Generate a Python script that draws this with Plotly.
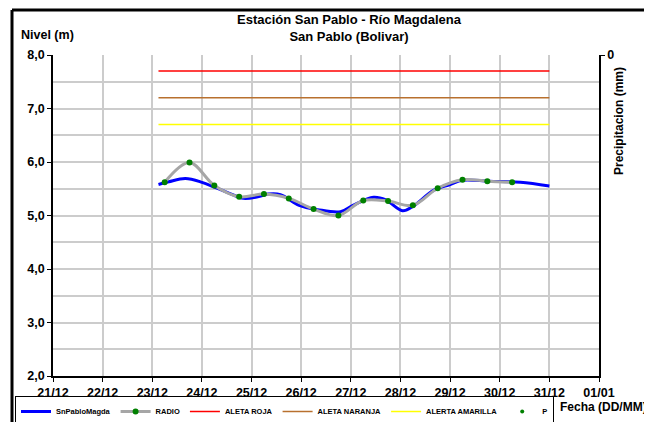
import plotly.graph_objects as go

# ---------------- data ----------------
snpablo_times = [
    "2023-12-23 03:00", "2023-12-23 08:00", "2023-12-23 16:00", "2023-12-24 00:00",
    "2023-12-24 06:00", "2023-12-24 13:00", "2023-12-24 20:00", "2023-12-25 03:00",
    "2023-12-25 08:00", "2023-12-25 14:00", "2023-12-25 23:00", "2023-12-26 08:00",
    "2023-12-26 19:00", "2023-12-27 01:00", "2023-12-27 11:00", "2023-12-27 17:00",
    "2023-12-28 01:00", "2023-12-28 06:00", "2023-12-28 16:00", "2023-12-29 00:00",
    "2023-12-29 06:00", "2023-12-29 19:00", "2023-12-30 10:00", "2023-12-31 00:00",
]
snpablo_values = [
    5.58, 5.63, 5.69, 5.62, 5.53, 5.42, 5.32, 5.35, 5.40, 5.39, 5.19, 5.11,
    5.07, 5.19, 5.34, 5.29, 5.09, 5.17, 5.47, 5.58, 5.66, 5.64, 5.62, 5.55,
]

radio_times = [
    "2023-12-23 06:00", "2023-12-23 18:00", "2023-12-24 06:00", "2023-12-24 18:00",
    "2023-12-25 06:00", "2023-12-25 18:00", "2023-12-26 06:00", "2023-12-26 18:00",
    "2023-12-27 06:00", "2023-12-27 18:00", "2023-12-28 06:00", "2023-12-28 18:00",
    "2023-12-29 06:00", "2023-12-29 18:00", "2023-12-30 06:00",
]
radio_values = [5.62, 5.99, 5.56, 5.35, 5.40, 5.32, 5.12, 5.00, 5.28, 5.27,
                5.19, 5.51, 5.67, 5.64, 5.62]

alert_times = ["2023-12-23 03:00", "2023-12-31 00:00"]
alerta_roja = [7.7, 7.7]
alerta_naranja = [7.2, 7.2]
alerta_amarilla = [6.7, 6.7]

# precipitation: no values recorded in the period
p_times = [None]
p_values = [None]

x_range = ["2023-12-21", "2024-01-01"]
y_range = [2, 8]

# ---------------- figure ----------------
# page body has an 8px margin, so the figure is 8px smaller than the window
W, H = 644, 414
PL, PR, PT, PB = 45, 53, 47, 46
PW, PH = W - PL - PR, H - PT - PB


def px_x(x):  # reference window pixel -> paper x
    return (x - 8 - PL) / PW


def px_y(y):  # reference window pixel -> paper y
    return (H - PB - (y - 8)) / PH


BOLD = dict(family="Liberation Sans, Arial, sans-serif", color="black", weight="bold")

fig = go.Figure()
fig.add_trace(go.Scatter(x=snpablo_times, y=snpablo_values, name="SnPabloMagda",
                         mode="lines", line=dict(color="#0000ff", width=3, shape="spline")))
fig.add_trace(go.Scatter(x=radio_times, y=radio_values, name="RADIO",
                         mode="lines+markers", line=dict(color="#a6a6a6", width=3, shape="spline"),
                         marker=dict(color="#008000", size=6)))
fig.add_trace(go.Scatter(x=alert_times, y=alerta_roja, name="ALETA ROJA",
                         mode="lines", line=dict(color="#ff0000", width=1.5)))
fig.add_trace(go.Scatter(x=alert_times, y=alerta_naranja, name="ALETA NARANJA",
                         mode="lines", line=dict(color="#b8702e", width=1.5)))
fig.add_trace(go.Scatter(x=alert_times, y=alerta_amarilla, name="ALERTA AMARILLA",
                         mode="lines", line=dict(color="#ffff00", width=1.5)))
fig.add_trace(go.Scatter(x=p_times, y=p_values, name="P", yaxis="y2",
                         mode="markers", marker=dict(color="#008000", size=4)))

fig.update_layout(
    width=W, height=H,
    margin=dict(l=PL, r=PR, t=PT, b=PB, autoexpand=False),
    paper_bgcolor="white", plot_bgcolor="white",
    separators=",.",
    font=dict(family="Liberation Sans, Arial, sans-serif", size=12, color="black"),
    title=dict(text="Estación San Pablo - Río Magdalena<br>San Pablo (Bolivar)",
               x=(349 - 8) / W, xanchor="center", y=1 - (24 - 8) / H, yanchor="middle",
               font=dict(size=13, **BOLD)),
    xaxis=dict(type="date", range=x_range, dtick=86400000, tickformat="%d/%m",
               showgrid=True, gridcolor="#cccccc", gridwidth=1.5,
               showline=True, linecolor="black", linewidth=1.5,
               ticks="outside", ticklen=4, tickcolor="black", automargin=False,
               tickfont=dict(size=12.5, **BOLD), zeroline=False),
    yaxis=dict(range=y_range, dtick=1, tickformat=".1f",
               showgrid=True, gridcolor="#cccccc", gridwidth=1.5,
               minor=dict(dtick=0.5, showgrid=True, gridcolor="#cccccc", gridwidth=1.5),
               showline=True, linecolor="black", linewidth=1.5,
               ticks="outside", ticklen=4, tickcolor="black", automargin=False,
               tickfont=dict(size=12.5, **BOLD), zeroline=False),
    yaxis2=dict(overlaying="y", side="right", range=[10, 0], tickvals=[0],
                showgrid=False, showline=True, linecolor="black", linewidth=1.5,
                ticks="outside", ticklen=4, tickcolor="black", automargin=False,
                tickfont=dict(size=12.5, **BOLD), zeroline=False),
    showlegend=True,
    legend=dict(orientation="h", x=px_x(15), y=px_y(396),
                xanchor="left", yanchor="top",
                bordercolor="black", borderwidth=1, bgcolor="white",
                font=dict(size=7.5, **BOLD), tracegroupgap=0,
                itemwidth=30),
    annotations=[
        dict(text="Nivel (m)", xref="paper", yref="paper",
             x=px_x(19), y=px_y(35), xanchor="left", yanchor="middle",
             showarrow=False, font=dict(size=12.5, **BOLD)),
        dict(text="Precipitacion (mm)", xref="paper", yref="paper", textangle=-90,
             x=px_x(619), y=px_y(121), xanchor="center", yanchor="middle",
             showarrow=False, font=dict(size=12, **BOLD)),
        dict(text="Fecha (DD/MM)", xref="paper", yref="paper",
             x=px_x(649), y=px_y(407), xanchor="right", yanchor="middle",
             showarrow=False, font=dict(size=12, **BOLD)),
    ],
    shapes=[
        dict(type="line", xref="paper", yref="paper",
             x0=px_x(12), x1=px_x(700), y0=px_y(10), y1=px_y(10),
             line=dict(color="black", width=3)),
        dict(type="line", xref="paper", yref="paper",
             x0=px_x(12), x1=px_x(12), y0=px_y(10), y1=px_y(460),
             line=dict(color="black", width=3)),
    ],
)

fig.write_html("out.html")
